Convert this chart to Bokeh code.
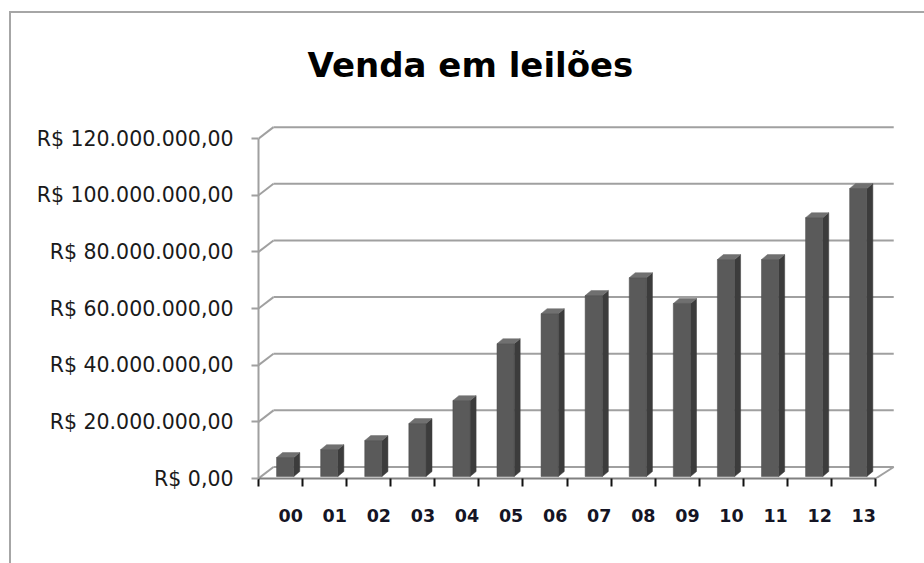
from bokeh.plotting import figure
from bokeh.models import FixedTicker, Range1d, CustomJSTickFormatter
from bokeh.embed import file_html
from bokeh.resources import INLINE

# ---------------- data ----------------
categories = ["00", "01", "02", "03", "04", "05", "06", "07", "08", "09", "10", "11", "12", "13"]
sales = [6.7e6, 9.5e6, 12.7e6, 18.7e6, 26.8e6, 46.9e6, 57.5e6,
         63.9e6, 70.2e6, 61.1e6, 76.6e6, 76.6e6, 91.4e6, 101.7e6]
y_ticks = [0, 20000000, 40000000, 60000000, 80000000, 100000000, 120000000]
y_tick_labels = ["R$ 0,00", "R$ 20.000.000,00", "R$ 40.000.000,00", "R$ 60.000.000,00",
                 "R$ 80.000.000,00", "R$ 100.000.000,00", "R$ 120.000.000,00"]
title_text = "Venda em leilões"

# ---------------- layout / style constants ----------------
N = len(categories)
BAR_L, BAR_R = 0.41, 0.80          # front face span within a category slot
BAR_BASE = 0.7e6                   # small lift of bar base above the front floor edge
DEPTH_X, DEPTH_Y = 0.136, 1.76e6   # bar depth offset
BACK_X, BACK_Y = 0.34, 4.06e6      # back wall offset
GRID_END = N + 0.41
LABEL_POS = 0.73
FONT = "DejaVu Sans"
GRID_COLOR = "#a0a0a0"
BORDER = "#a6a6a6"

p = figure(width=924, height=563, output_backend="svg", toolbar_location=None,
           x_range=Range1d(0, 14.45), y_range=Range1d(0, 125e6),
           min_border_left=258, min_border_right=29, min_border_top=124, min_border_bottom=85)
p.outline_line_color = None
p.grid.visible = False
p.background_fill_color = "white"
p.border_fill_color = None
# chart-area border (only its top and left edges are in view)
p.styles = {
    "background": (f"linear-gradient({BORDER},{BORDER}) 9px 11px / 2px 100% no-repeat, "
                   f"linear-gradient({BORDER},{BORDER}) 9px 11px / 100% 2px no-repeat, white"),
}

# back wall gridlines
p.segment(x0=[BACK_X] * len(y_ticks), y0=[t + BACK_Y for t in y_ticks],
          x1=[GRID_END] * len(y_ticks), y1=[t + BACK_Y for t in y_ticks],
          line_color=GRID_COLOR, line_width=2)
# left diagonal connectors
p.segment(x0=[0] * len(y_ticks), y0=y_ticks,
          x1=[BACK_X] * len(y_ticks), y1=[t + BACK_Y for t in y_ticks],
          line_color=GRID_COLOR, line_width=2)
# right floor edge
p.segment(x0=[N], y0=[0], x1=[GRID_END], y1=[BACK_Y], line_color=GRID_COLOR, line_width=2)

# bars (pseudo 3D)
xs = list(range(N))
lefts = [i + BAR_L for i in xs]
rights = [i + BAR_R for i in xs]
tops = [BAR_BASE + v for v in sales]

side_xs = [[r, r + DEPTH_X, r + DEPTH_X, r] for r in rights]
side_ys = [[BAR_BASE, BAR_BASE + DEPTH_Y, t + DEPTH_Y, t] for t in tops]
p.patches(side_xs, side_ys, fill_color="#3c3c3c", line_color="#3c3c3c", line_width=0.5)

top_xs = [[l, r, r + DEPTH_X, l + DEPTH_X] for l, r in zip(lefts, rights)]
top_ys = [[t, t, t + DEPTH_Y, t + DEPTH_Y] for t in tops]
p.patches(top_xs, top_ys, fill_color="#707070", line_color="#707070", line_width=0.5)

p.quad(left=lefts, right=rights, bottom=[BAR_BASE] * N, top=tops,
       fill_color="#5a5a5a", line_color="#4a4a4a", line_width=0.5)

# y axis
ya = p.yaxis[0]
ya.ticker = FixedTicker(ticks=y_ticks, minor_ticks=[])
ya.formatter = CustomJSTickFormatter(args=dict(labels=y_tick_labels),
                                     code="return labels[Math.round(tick / 20000000)];")
ya.bounds = (0, 120e6)
ya.axis_line_color = GRID_COLOR
ya.axis_line_width = 2
ya.major_tick_line_color = GRID_COLOR
ya.major_tick_line_width = 2
ya.major_tick_out = 7
ya.major_tick_in = 0
ya.minor_tick_out = 0
ya.minor_tick_in = 0
ya.major_label_standoff = 18
ya.major_label_text_font = FONT
ya.major_label_text_font_size = "20.5px"
ya.major_label_text_color = "#1a1a1a"

# x axis
xa = p.xaxis[0]
xa.ticker = FixedTicker(ticks=[i + LABEL_POS for i in xs], minor_ticks=list(range(N + 1)))
xa.formatter = CustomJSTickFormatter(args=dict(cats=categories),
                                     code="return cats[Math.floor(tick)];")
xa.bounds = (0, N)
xa.axis_line_color = "#808080"
xa.axis_line_width = 2
xa.major_tick_out = 0
xa.major_tick_in = 0
xa.minor_tick_out = 8
xa.minor_tick_in = 0
xa.minor_tick_line_color = "#111111"
xa.minor_tick_line_width = 2
xa.major_label_standoff = 22
xa.major_label_text_font = FONT
xa.major_label_text_font_style = "bold"
xa.major_label_text_font_size = "17.5px"
xa.major_label_text_color = "#151525"

# title
p.title.text = title_text
p.title.text_font = FONT
p.title.text_font_style = "bold"
p.title.text_font_size = "34px"
p.title.text_color = "#000000"
p.title.align = "left"
p.title.offset = 49
p.title.standoff = 80

open("out.html", "w").write(file_html(p, INLINE))
